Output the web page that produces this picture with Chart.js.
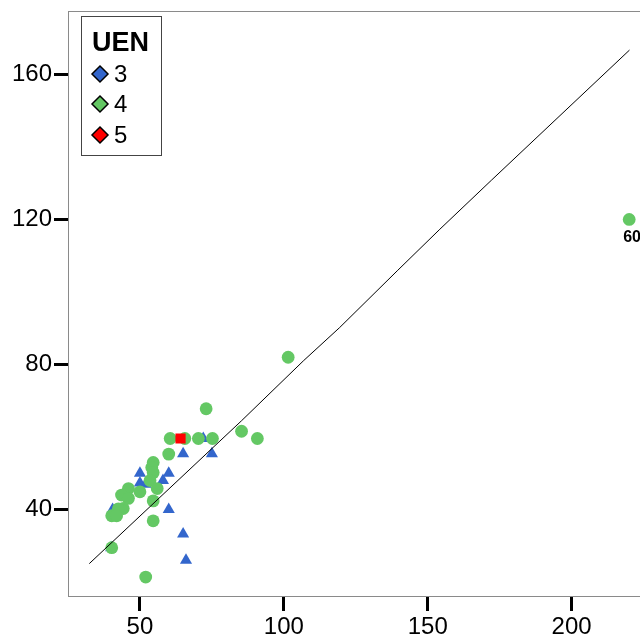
<!DOCTYPE html>
<html>
<head>
<meta charset="utf-8">
<script src="https://cdn.jsdelivr.net/npm/chart.js@4.4.0/dist/chart.umd.min.js"></script>
<style>
    html, body { margin: 0; padding: 0; background: #fff; }
    #wrap { width: 640px; height: 635px; overflow: hidden; position: relative; }
</style>
</head>
<body>
<div id="wrap"><canvas id="chart" width="660" height="635"></canvas></div>
<script>
// UEN = 3 (triángulos azules)
const uen3X = [50, 60, 50, 52, 58, 65, 75, 72, 60, 40.5, 65, 66, 40];
const uen3Y = [50, 50, 47.3, 47, 48, 55.4, 55.4, 59.6, 40, 40, 33.3, 26, 29.5];

// UEN = 4 (círculos verdes)
const uen4X = [101.5, 73, 60.5, 65.6, 70.3, 75.2, 85.3, 90.8, 60, 54.6, 54.1, 54.6, 53.5,
    56, 46, 50, 43.6, 46, 54.6, 44.2, 42.5, 40.2, 41.9, 54.6, 40.2, 52, 220];
const uen4Y = [82, 67.8, 59.6, 59.6, 59.6, 59.6, 61.6, 59.6, 55.3, 53, 51.6, 50.2, 48,
    45.8, 45.8, 44.9, 44, 43.1, 42.4, 40.3, 40.2, 38.3, 38.3, 36.9, 29.5, 21.4, 120];

// UEN = 5 (cuadrado rojo)
const uen5X = [64.1];
const uen5Y = [59.6];

// línea de ajuste
const fitX = [32.4, 85.3, 106.9, 119.4, 139.6, 154.2, 172.1, 220.1];
const fitY = [25.1, 64.5, 81.1, 90.2, 106.0, 117.3, 130.8, 166.7];

// etiqueta del caso atípico
const outlierX = 220;
const outlierY = 120;
const outlierLabel = '60';

const xTicks = [50, 100, 150, 200];
const yTicks = [40, 80, 120, 160];
const legendTitle = 'UEN';
const legendLabels = ['3', '4', '5'];

const toPoints = (xs, ys) => xs.map((x, i) => ({ x: x, y: ys[i] }));

const fontFamily = "'Liberation Sans', Arial, sans-serif";

// marco gris alrededor del área del gráfico
const framePlugin = {
    id: 'frame',
    beforeDatasetsDraw(chart) {
        const { ctx, chartArea } = chart;
        ctx.save();
        ctx.strokeStyle = '#8a8a8a';
        ctx.lineWidth = 1;
        ctx.strokeRect(Math.round(chartArea.left) + 0.5, Math.round(chartArea.top) - 0.5,
            chartArea.right - chartArea.left, chartArea.bottom - chartArea.top);
        ctx.restore();
    }
};

// etiqueta "60" y leyenda dentro del gráfico
const extrasPlugin = {
    id: 'extras',
    afterDraw(chart) {
        const { ctx, scales } = chart;
        ctx.save();

        const px = scales.x.getPixelForValue(outlierX);
        const py = scales.y.getPixelForValue(outlierY);
        ctx.fillStyle = '#000';
        ctx.font = 'bold 16px ' + fontFamily;
        ctx.textAlign = 'left';
        ctx.textBaseline = 'top';
        ctx.fillText(outlierLabel, px - 6, py + 10);

        // leyenda
        ctx.fillStyle = '#fff';
        ctx.fillRect(81.5, 16.5, 80, 139);
        ctx.strokeStyle = '#444';
        ctx.lineWidth = 1;
        ctx.strokeRect(81.5, 16.5, 80, 139);

        ctx.fillStyle = '#000';
        ctx.font = 'bold 27px ' + fontFamily;
        ctx.textBaseline = 'middle';
        ctx.fillText(legendTitle, 92, 44);

        const colors = chart.data.datasets.slice(0, 3).map(d => d.backgroundColor);
        const rowsY = [74, 104, 135];
        legendLabels.forEach((lab, i) => {
            const cx = 100, cy = rowsY[i], r = 8;
            ctx.beginPath();
            ctx.moveTo(cx, cy - r);
            ctx.lineTo(cx + r, cy);
            ctx.lineTo(cx, cy + r);
            ctx.lineTo(cx - r, cy);
            ctx.closePath();
            ctx.fillStyle = colors[i];
            ctx.fill();
            ctx.strokeStyle = '#000';
            ctx.lineWidth = 1.5;
            ctx.stroke();

            ctx.fillStyle = '#000';
            ctx.font = '24px ' + fontFamily;
            ctx.fillText(lab, 114, cy + 1);
        });

        ctx.restore();
    }
};

const tickFont = { family: fontFamily, size: 24 };

// sin relleno extra de las escalas, para fijar el área del gráfico
const noScalePadding = (scale) => {
    scale.paddingLeft = 0;
    scale.paddingRight = 0;
    scale.paddingTop = 0;
    scale.paddingBottom = 0;
};

new Chart(document.getElementById('chart'), {
    type: 'scatter',
    data: {
        datasets: [
            {
                label: '3',
                data: toPoints(uen3X, uen3Y),
                pointStyle: 'triangle',
                pointRadius: 7,
                backgroundColor: '#3366cc',
                borderColor: '#3366cc',
                pointBorderWidth: 0,
                order: 3
            },
            {
                label: '4',
                data: toPoints(uen4X, uen4Y),
                pointStyle: 'circle',
                pointRadius: 6.4,
                backgroundColor: '#64c864',
                borderColor: '#64c864',
                pointBorderWidth: 0,
                order: 2
            },
            {
                label: '5',
                data: toPoints(uen5X, uen5Y),
                pointStyle: 'rect',
                pointRadius: 7.2,
                backgroundColor: '#ff0000',
                borderColor: '#ff0000',
                pointBorderWidth: 0,
                order: 1
            },
            {
                label: 'ajuste',
                data: toPoints(fitX, fitY),
                showLine: true,
                borderColor: '#000',
                borderWidth: 1,
                pointRadius: 0,
                fill: false,
                order: 0
            }
        ]
    },
    options: {
        responsive: false,
        animation: false,
        layout: { padding: { top: 12, left: 0, right: 0, bottom: 0 } },
        plugins: {
            legend: { display: false },
            tooltip: { enabled: false }
        },
        scales: {
            x: {
                type: 'linear',
                min: 25,
                max: 228.2,
                afterFit: (scale) => { scale.height = 38; noScalePadding(scale); },
                afterBuildTicks: (scale) => { scale.ticks = xTicks.map(v => ({ value: v })); },
                grid: { drawOnChartArea: false, tickLength: 14, tickWidth: 3, tickColor: '#000' },
                border: { display: false },
                ticks: { font: tickFont, color: '#000', padding: 2, maxRotation: 0 }
            },
            y: {
                type: 'linear',
                min: 15.9,
                max: 177.2,
                afterFit: (scale) => { scale.width = 68; noScalePadding(scale); },
                afterBuildTicks: (scale) => { scale.ticks = yTicks.map(v => ({ value: v })); },
                grid: { drawOnChartArea: false, tickLength: 14, tickWidth: 3, tickColor: '#000' },
                border: { display: false },
                ticks: { font: tickFont, color: '#000', padding: 2 }
            }
        }
    },
    plugins: [framePlugin, extrasPlugin]
});
</script>
</body>
</html>
